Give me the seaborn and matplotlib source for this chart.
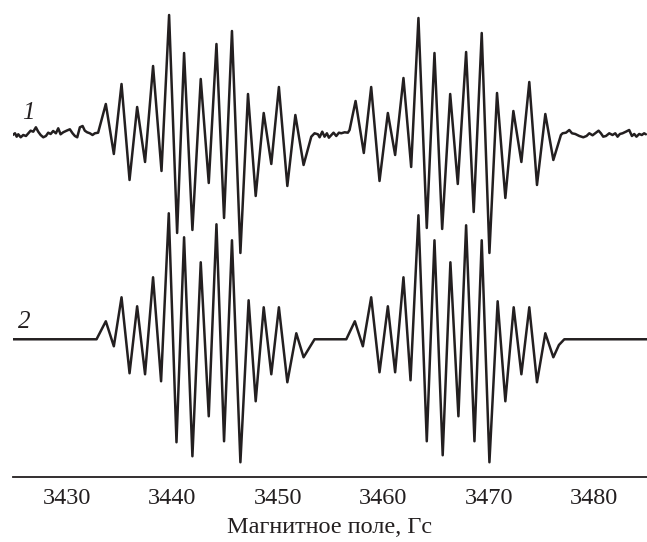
import pandas as pd
import matplotlib
matplotlib.use("Agg")
import matplotlib.pyplot as plt
import seaborn as sns

field_1 = [3424.86, 3425.08, 3425.24, 3425.39, 3425.62, 3425.86, 3426.12, 3426.34, 3426.56, 3426.81,
           3427.06, 3427.28, 3427.51, 3427.76, 3428.01, 3428.23, 3428.46, 3428.70, 3428.96, 3429.18,
           3429.40, 3429.65, 3429.97, 3430.28, 3430.54, 3430.76, 3430.98, 3431.23, 3431.49, 3431.70,
           3431.92, 3432.18, 3432.43, 3432.65, 3432.96,
           3433.69, 3434.45, 3435.18, 3435.94, 3436.66, 3437.41, 3438.17, 3438.97, 3439.69, 3440.45,
           3441.11, 3441.90, 3442.69, 3443.45, 3444.18, 3444.90, 3445.65, 3446.45, 3447.17, 3447.90,
           3448.66, 3449.38, 3450.10, 3450.90, 3451.66, 3452.44, 3453.17,
           3453.48, 3453.80, 3453.96, 3454.21, 3454.43, 3454.65, 3454.84, 3455.07, 3455.28, 3455.54,
           3455.79, 3456.01, 3456.33, 3456.64, 3456.80,
           3457.37, 3457.91, 3458.15, 3458.85, 3459.64, 3460.43, 3461.12, 3461.91, 3462.64, 3463.33,
           3464.12, 3464.85, 3465.58, 3466.34, 3467.06, 3467.85, 3468.57, 3469.33, 3470.06, 3470.78,
           3471.57, 3472.33, 3473.09, 3473.84, 3474.57, 3475.36, 3476.12, 3476.84,
           3477.00, 3477.32, 3477.63, 3477.89, 3478.20, 3478.58, 3478.96, 3479.27, 3479.53, 3479.84,
           3480.16, 3480.41, 3480.63, 3480.85, 3481.11, 3481.42, 3481.73, 3481.99, 3482.21, 3482.43,
           3482.68, 3483.00, 3483.31, 3483.57, 3483.79, 3484.00, 3484.26, 3484.51, 3484.73, 3484.89]
signal_1 = [0, 1.7, -1.7, 0.7, -2.3, 0, -1, 1.7, 4.3, 3.3,
            7.7, 3.3, 0, -2.3, -1, 2.3, 1, 4, 1.7, 6.7,
            0.7, 2.7, 4.3, 5.7, 1.7, -1, -2.3, 7.7, 9, 4.3,
            2.7, 1.7, 0, 1.7, 2.3,
            31, -19, 51, -45, 28, -27, 69, -36, 120, -98,
            82, -95, 56, -48, 91, -83, 104, -118, 41, -61,
            22, -29, 48, -51, 20, -30, -1.7,
            1.7, 0.7, -2.3, 3.3, -1.7, 1.7, -2.7, 0, 2.3, -1,
            2.3, 1.7, 2.7, 2.3, 5,
            34, -1.7, -18, 48, -46, 22, -20, 57, -32, 117,
            -93, 82, -94, 41, -49, 83, -77, 102, -118, 42,
            -63, 24, -27, 53, -50, 21, -25, 0,
            1.7, 2.3, 5, 1.7, 1, -1, -2.3, -1, 1.7, -0.3,
            2.3, 4.3, 1.7, -1.7, -1, 1.7, 0, 1.7, -1.7, 1,
            1.7, 3.3, 5, -1, 1, -1.7, 1, 0, 1.7, 0.7]

# spectrum 2 (simulation)
field_2 = [3424.86, 3432.81,
           3433.69, 3434.45, 3435.18, 3435.94, 3436.66, 3437.41, 3438.17, 3438.93, 3439.66, 3440.39,
           3441.11, 3441.90, 3442.69, 3443.45, 3444.18, 3444.90, 3445.65, 3446.45, 3447.23, 3447.90,
           3448.66, 3449.38, 3450.10, 3450.90, 3451.75, 3452.44, 3453.48, 3456.49,
           3457.30, 3458.06, 3458.85, 3459.64, 3460.43, 3461.12, 3461.91, 3462.58, 3463.33, 3464.12,
           3464.85, 3465.63, 3466.36, 3467.12, 3467.85, 3468.64, 3469.33, 3470.06, 3470.84, 3471.57,
           3472.36, 3473.09, 3473.84, 3474.57, 3475.36, 3476.12, 3476.65, 3477.16, 3485.0]
signal_2 = [0, 0,
            18, -7, 42, -34, 33, -35, 62, -42, 126, -103,
            102, -117, 77, -77, 115, -102, 99, -123, 39, -62,
            32, -35, 32, -43, 6, -18, 0, 0,
            18, -7, 42, -33, 33, -33, 62, -41, 124, -102,
            99, -116, 77, -77, 114, -102, 99, -123, 38, -62,
            32, -35, 32, -43, 6, -18, -5.7, 0, 0]

offset_1 = 204.3
ticks = [3430, 3440, 3450, 3460, 3470, 3480]
xlabel = "Магнитное поле, Гс"

df1 = pd.DataFrame({"field": field_1, "signal": [v + offset_1 for v in signal_1]})
df2 = pd.DataFrame({"field": field_2, "signal": signal_2})

sns.set_style("white")
plt.rcParams["font.family"] = ["Liberation Serif", "DejaVu Serif"]

fig = plt.figure(figsize=(6.47, 5.42), dpi=100)
ax = fig.add_axes([0.0196, 0.12, 0.9804, 0.88])

col = "#231f20"
line_kw = dict(color=col, lw=1.8, estimator=None, sort=False, ax=ax,
               solid_joinstyle="round", solid_capstyle="round")
sns.lineplot(data=df1, x="field", y="signal", **line_kw)
sns.lineplot(data=df2, x="field", y="signal", **line_kw)

ax.text(3425.74, offset_1 + 16, "1", fontsize=18, style="italic", color=col)
ax.text(3425.36, 11, "2", fontsize=18, style="italic", color=col)

ax.set_xlim(3424.86, 3485)
ax.set_ylim(-137.7, 339.3)
ax.set_xticks(ticks)
ax.set_yticks([])
ax.set_xlabel(xlabel, fontsize=17.5, color=col, labelpad=6)
ax.set_ylabel("")
for s in ["left", "right", "top"]:
    ax.spines[s].set_visible(False)
ax.spines["bottom"].set_color(col)
ax.spines["bottom"].set_linewidth(1.3)
ax.tick_params(axis="x", direction="in", length=6, width=1.2, color=col,
               labelsize=17.5, labelcolor=col, pad=8)

fig.savefig("out.png", dpi=100)
